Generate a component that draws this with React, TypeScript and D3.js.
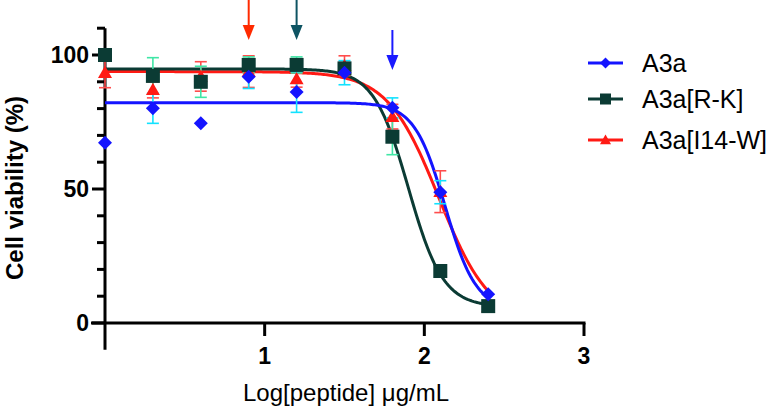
import { useRef, useEffect } from "react";
import * as d3 from "d3";

// log10 of peptide concentration (µg/mL)
const logDose = [0, 0.3, 0.6, 0.9, 1.2, 1.5, 1.8, 2.1, 2.4];

const a3a = [67.3, 80.1, 74.5, 91.9, 86.2, 93.4, 80.3, 48.8, 10.7];
const a3aErr = [0, 5.6, 0, 4.4, 7.6, 4.5, 3.7, 4.3, 0];
const a3aRK = [100, 92.2, 90, 96.3, 96.3, 95, 69.5, 19.4, 6.3];
const a3aRKErr = [0, 6.8, 5.8, 3, 3, 2, 6.7, 0, 0];
const a3aIW = [93.4, 87, 92, 93.8, 91, 96, 77, 49, 6];
const a3aIWErr = [5.6, 3, 5.5, 5.9, 3, 3.7, 4.6, 7.8, 0];

// fitted 4PL parameters: top, bottom, logIC50, hill
const fitA3a = [82.2, 5, 2.13, 4.5];
const fitRK = [94.8, 6, 1.9, 4];
const fitIW = [93.8, 0, 2.09, 2.7];

const seriesNames = ["A3a", "A3a[R-K]", "A3a[I14-W]"];
const xTicks = [1, 2, 3];
const yMajor = [0, 50, 100];
const yMinor = [0, 10, 20, 30, 40, 50, 60, 70, 80, 90, 100, 110];
const arrowDoses = [0.9, 1.2, 1.8];

function App() {
  const svgRef = useRef(null);

  useEffect(() => {
    document.body.style.margin = "0";
    const w = 776;
    const h = 409;
    const svg = d3.select(svgRef.current).attr("width", w).attr("height", h);
    svg.selectAll("*").remove();

    const font = "'Liberation Sans', Arial, sans-serif";
    const x = d3.scaleLinear().domain([0, 3]).range([105, 584]);
    const y = d3.scaleLinear().domain([0, 100]).range([323, 55]);

    const blue = "#1414ff";
    const green = "#0b3b34";
    const red = "#ff1a14";

    const series = [
      { name: seriesNames[2], vals: a3aIW, err: a3aIWErr, fit: fitIW, color: red, errColor: "#ff4d4d", shape: "tri" },
      { name: seriesNames[1], vals: a3aRK, err: a3aRKErr, fit: fitRK, color: green, errColor: "#40e6a6", shape: "sq" },
      { name: seriesNames[0], vals: a3a, err: a3aErr, fit: fitA3a, color: blue, errColor: "#12e2ff", shape: "dia" },
    ];

    // axes
    const ax = svg.append("g").attr("stroke", "#000").attr("stroke-width", 3);
    ax.append("line").attr("x1", x(0)).attr("x2", x(0)).attr("y1", y(110)).attr("y2", y(-10));
    ax.append("line").attr("x1", 91).attr("x2", x(3) + 1.5).attr("y1", y(0)).attr("y2", y(0));
    yMinor.forEach((v) => {
      const len = yMajor.includes(v) ? 13 : 8;
      ax.append("line").attr("x1", x(0) - len).attr("x2", x(0)).attr("y1", y(v)).attr("y2", y(v));
    });
    xTicks.forEach((v) => {
      ax.append("line").attr("x1", x(v)).attr("x2", x(v)).attr("y1", y(0)).attr("y2", y(0) + 13);
    });

    svg
      .selectAll(".ylab")
      .data(yMajor)
      .join("text")
      .attr("x", 89)
      .attr("y", (d) => y(d))
      .attr("dy", "0.36em")
      .attr("text-anchor", "end")
      .style("font", `bold 23px ${font}`)
      .text((d) => d);

    svg
      .selectAll(".xlab")
      .data(xTicks)
      .join("text")
      .attr("x", (d) => x(d))
      .attr("y", 364)
      .attr("text-anchor", "middle")
      .style("font", `bold 23px ${font}`)
      .text((d) => d);

    svg
      .append("text")
      .attr("transform", "translate(23,188) rotate(-90)")
      .attr("text-anchor", "middle")
      .style("font", `bold 24px ${font}`)
      .text("Cell viability (%)");

    svg
      .append("text")
      .attr("x", 346)
      .attr("y", 401)
      .attr("text-anchor", "middle")
      .style("font", `24px ${font}`)
      .text("Log[peptide] \u03bcg/mL");

    // fitted curves
    const grid = d3.range(0, 2.4001, 0.01);
    const model = (p, d) => p[1] + (p[0] - p[1]) / (1 + Math.pow(10, (d - p[2]) * p[3]));
    const line = d3
      .line()
      .x((d) => x(d[0]))
      .y((d) => y(d[1]));
    series.forEach((s) => {
      svg
        .append("path")
        .attr("d", line(grid.map((d) => [d, model(s.fit, d)])))
        .attr("fill", "none")
        .attr("stroke", s.color)
        .attr("stroke-width", 3);
    });

    // error bars
    series.forEach((s) => {
      const g = svg.append("g").attr("stroke", s.errColor).attr("stroke-width", 1.6);
      logDose.forEach((d, i) => {
        if (!s.err[i]) return;
        const cx = x(d);
        const y1 = y(s.vals[i] + s.err[i]);
        const y2 = y(s.vals[i] - s.err[i]);
        g.append("line").attr("x1", cx).attr("x2", cx).attr("y1", y1).attr("y2", y2);
        g.append("line").attr("x1", cx - 6).attr("x2", cx + 6).attr("y1", y1).attr("y2", y1);
        g.append("line").attr("x1", cx - 6).attr("x2", cx + 6).attr("y1", y2).attr("y2", y2);
      });
    });

    const drawMarker = (g, shape, cx, cy, color, size) => {
      if (shape === "sq") {
        g.append("rect")
          .attr("x", cx - size / 2)
          .attr("y", cy - size / 2)
          .attr("width", size)
          .attr("height", size)
          .attr("fill", color);
      } else if (shape === "dia") {
        const r = size / 2;
        g.append("path")
          .attr("d", `M${cx},${cy - r}L${cx + r},${cy}L${cx},${cy + r}L${cx - r},${cy}Z`)
          .attr("fill", color);
      } else {
        const r = size / 2;
        g.append("path")
          .attr("d", `M${cx},${cy - r}L${cx + r},${cy + r * 0.75}L${cx - r},${cy + r * 0.75}Z`)
          .attr("fill", color);
      }
    };

    // markers
    series.forEach((s) => {
      const g = svg.append("g");
      logDose.forEach((d, i) => drawMarker(g, s.shape, x(d), y(s.vals[i]), s.color, 14));
    });

    // arrows
    const arrowColors = ["#ff2a00", "#0e5463", "#1a1aff"];
    const arrowTop = [0, 0, 30];
    arrowDoses.forEach((d, i) => {
      const cx = x(d);
      const t = arrowTop[i];
      svg
        .append("line")
        .attr("x1", cx)
        .attr("x2", cx)
        .attr("y1", t)
        .attr("y2", t + 28)
        .attr("stroke", arrowColors[i])
        .attr("stroke-width", 2);
      svg
        .append("path")
        .attr("d", `M${cx - 6},${t + 25}L${cx + 6},${t + 25}L${cx},${t + 40}Z`)
        .attr("fill", arrowColors[i]);
    });

    // legend
    const legendY = [63, 99, 140];
    const legendOrder = [series[2], series[1], series[0]];
    legendOrder.forEach((s, i) => {
      const g = svg.append("g");
      g.append("line")
        .attr("x1", 588)
        .attr("x2", 623)
        .attr("y1", legendY[i])
        .attr("y2", legendY[i])
        .attr("stroke", s.color)
        .attr("stroke-width", 3);
      drawMarker(g, s.shape, 605.5, legendY[i], s.color, 11);
      g.append("text")
        .attr("x", 642)
        .attr("y", legendY[i])
        .attr("dy", "0.36em")
        .style("font", `25px ${font}`)
        .text(s.name);
    });
  }, []);

  return <svg ref={svgRef} style={{ display: "block" }}></svg>;
}

export default App;
